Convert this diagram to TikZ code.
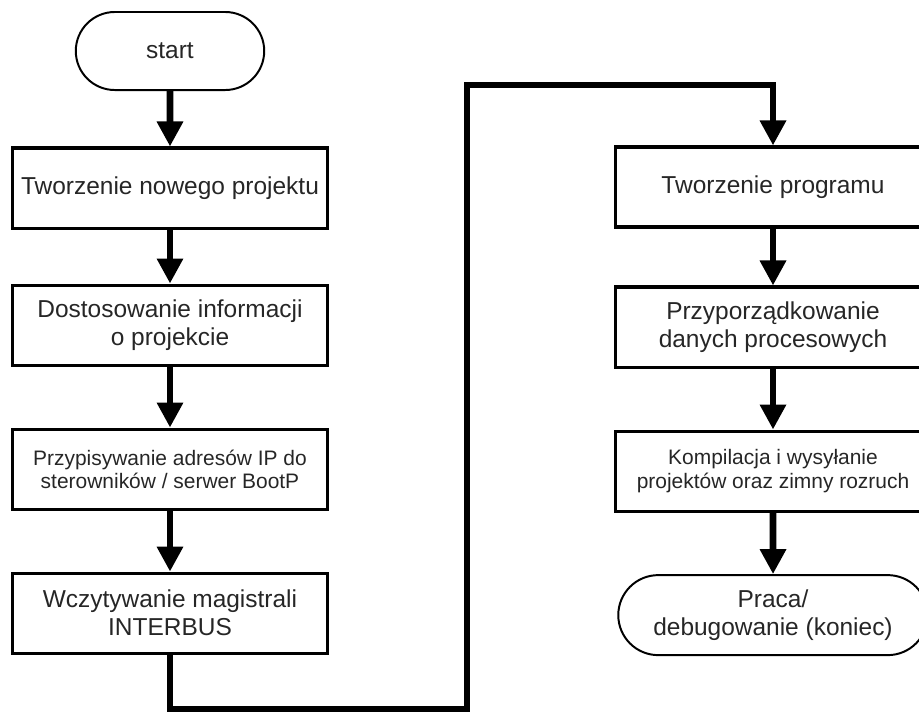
\documentclass[tikz,border=0pt]{standalone}
\usepackage{fontspec}
\setmainfont{Liberation Sans}
\usetikzlibrary{positioning, arrows.meta, shapes.misc}

\begin{document}
\begin{tikzpicture}[x=0.025cm, y=-0.025cm, node distance=3.6cm,
		proc/.style={draw, line width=2.2pt, rectangle, minimum width=7.875cm, minimum height=2cm,
			inner sep=2pt, align=center, text=black!85, font=\fontsize{17.4pt}{19.9pt}\selectfont},
		small/.style={font=\fontsize{14.9pt}{16.6pt}\selectfont},
		term/.style={proc, rounded rectangle, line width=1.4pt},
		flow/.style={line width=4.8pt, -{Triangle[length=0.625cm, width=0.625cm]}}]
				\useasboundingbox (0,0) rectangle (919,713);
				% left column
				\node[term, minimum width=4.85cm, minimum height=1.95cm] (start) at (170,51) {start};
				\node[proc, below of=start, node distance=3.425cm] (b1) {Tworzenie nowego projektu};
				\node[proc, below of=b1, node distance=3.425cm] (b2) {Dostosowanie informacji\\o projekcie};
				\node[proc, small, below of=b2] (b3) {Przypisywanie adresów IP do\\sterowników / serwer BootP};
				\node[proc, below of=b3] (b4) {Wczytywanie magistrali\\INTERBUS};
				% right column
				\node[proc] (b5) at (773,187) {Tworzenie programu};
				\node[proc, below of=b5, node distance=3.5cm] (b6) {Przyporządkowanie\\danych procesowych};
				\node[proc, small, below of=b6] (b7) {Kompilacja i wysyłanie\\projektów oraz zimny rozruch};
				\node[term, below of=b7] (end) {Praca/\\debugowanie (koniec)};
				\coordinate (c1) at (467,709);
				\coordinate (c2) at (467,85);
				\path[flow] (start) edge (b1)
					(b1) edge (b2)
					(b2) edge (b3)
					(b3) edge (b4)
					(b5) edge (b6)
					(b6) edge (b7)
					(b7) edge (end);
				\draw[flow] (b4) |- (c1) -- (c2) -| (b5);
			\end{tikzpicture}
\end{document}
